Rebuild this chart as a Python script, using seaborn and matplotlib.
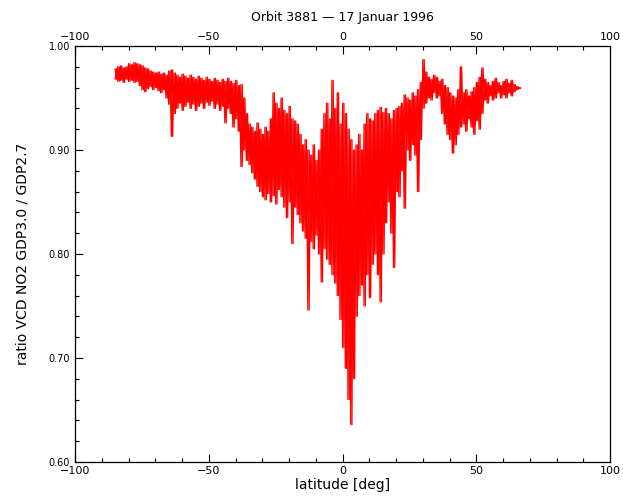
import numpy as np
import pandas as pd
import seaborn as sns
import matplotlib.pyplot as plt
from matplotlib.ticker import MultipleLocator, FormatStrFormatter

# envelope of the ratio, one pair per degree latitude
lat = list(range(-85, 67))
hi = [0.978, 0.980, 0.981, 0.979, 0.980, 0.983, 0.982, 0.984, 0.983, 0.982,
      0.981, 0.979, 0.978, 0.976, 0.975, 0.974, 0.975, 0.973, 0.974, 0.972,
      0.976, 0.977, 0.974, 0.972, 0.970, 0.973, 0.971, 0.969, 0.972, 0.970,
      0.968, 0.971, 0.969, 0.967, 0.970, 0.968, 0.966, 0.969, 0.967, 0.965,
      0.968, 0.966, 0.969, 0.966, 0.964, 0.967, 0.962, 0.963, 0.950, 0.935,
      0.925, 0.922, 0.918, 0.926, 0.920, 0.915, 0.922, 0.918, 0.930, 0.955,
      0.945, 0.940, 0.950, 0.938, 0.935, 0.942, 0.930, 0.928, 0.925, 0.915,
      0.905, 0.910, 0.900, 0.895, 0.905, 0.890, 0.900, 0.920, 0.935, 0.945,
      0.930, 0.967, 0.940, 0.955, 0.925, 0.945, 0.935, 0.920, 0.910, 0.900,
      0.905, 0.915, 0.900, 0.925, 0.935, 0.930, 0.928, 0.935, 0.938, 0.941,
      0.936, 0.940, 0.935, 0.930, 0.938, 0.940, 0.942, 0.945, 0.953, 0.950,
      0.948, 0.955, 0.952, 0.958, 0.965, 0.987, 0.975, 0.970, 0.968, 0.972,
      0.970, 0.966, 0.968, 0.962, 0.960, 0.955, 0.952, 0.950, 0.958, 0.980,
      0.955, 0.958, 0.952, 0.956, 0.960, 0.965, 0.970, 0.979, 0.968, 0.965,
      0.962, 0.966, 0.969, 0.965, 0.962, 0.966, 0.968, 0.964, 0.967, 0.963,
      0.961, 0.960]
lo = [0.968, 0.966, 0.967, 0.965, 0.968, 0.966, 0.967, 0.965, 0.966, 0.962,
      0.958, 0.956, 0.959, 0.961, 0.958, 0.960, 0.957, 0.955, 0.958, 0.950,
      0.944, 0.913, 0.935, 0.940, 0.945, 0.938, 0.942, 0.946, 0.940, 0.944,
      0.938, 0.942, 0.945, 0.940, 0.946, 0.943, 0.947, 0.940, 0.944, 0.938,
      0.942, 0.926, 0.940, 0.935, 0.922, 0.930, 0.918, 0.884, 0.900, 0.890,
      0.886, 0.878, 0.872, 0.865, 0.860, 0.855, 0.852, 0.858, 0.850, 0.856,
      0.848, 0.862, 0.855, 0.845, 0.835, 0.850, 0.810, 0.845, 0.838, 0.830,
      0.822, 0.815, 0.746, 0.812, 0.805, 0.818, 0.800, 0.773, 0.805, 0.795,
      0.790, 0.780, 0.772, 0.760, 0.737, 0.710, 0.690, 0.660, 0.636, 0.680,
      0.740, 0.760, 0.770, 0.750, 0.780, 0.758, 0.790, 0.800, 0.780, 0.754,
      0.800, 0.830, 0.850, 0.820, 0.787, 0.860, 0.855, 0.880, 0.844, 0.900,
      0.890, 0.905, 0.895, 0.860, 0.910, 0.940, 0.945, 0.950, 0.948, 0.955,
      0.950, 0.952, 0.935, 0.925, 0.915, 0.910, 0.897, 0.905, 0.915, 0.922,
      0.925, 0.918, 0.930, 0.922, 0.915, 0.928, 0.920, 0.935, 0.948, 0.945,
      0.952, 0.948, 0.950, 0.955, 0.950, 0.953, 0.950, 0.955, 0.952, 0.956,
      0.958, 0.959]

# two crossing zig-zag tracks between the upper and lower envelope,
# like the overlapping ground pixels of the orbit
rows = []
for la, h, l in zip(lat, hi, lo):
    rows += [(0, la, h), (0, la + 0.5, l)]
    rows += [(1, la, l), (1, la + 0.5, h)]
df = pd.DataFrame(rows, columns=["track", "latitude", "ratio"])

sns.set_style("ticks")
plt.rcParams['font.family'] = ['DejaVu Sans']
plt.rcParams['text.color'] = 'black'
plt.rcParams['axes.labelcolor'] = 'black'

fig = plt.figure(figsize=(6.23, 5), dpi=100)
ax = fig.add_axes([0.1204, 0.076, 0.859, 0.832])

sns.lineplot(data=df, x="latitude", y="ratio", units="track", sort=False,
             estimator=None, color="red", linewidth=0.9, ax=ax)

ax.set_xlim(-100, 100)
ax.set_ylim(0.60, 1.00)
ax.xaxis.set_major_locator(MultipleLocator(50))
ax.xaxis.set_minor_locator(MultipleLocator(10))
ax.yaxis.set_major_locator(MultipleLocator(0.1))
ax.yaxis.set_minor_locator(MultipleLocator(0.02))
ax.yaxis.set_major_formatter(FormatStrFormatter("%.2f"))

ax.tick_params(axis="x", which="both", direction="in", top=True, labeltop=True,
               bottom=True, labelbottom=True, labelsize=8, pad=3)
ax.tick_params(axis="y", which="both", direction="in", left=True, right=False,
               labelsize=7)
ax.tick_params(which="both", color="black", labelcolor="black", width=0.8)
ax.tick_params(which="major", length=6)
ax.tick_params(which="minor", length=3)
for s in ax.spines.values():
    s.set_visible(True)
    s.set_linewidth(0.9)
    s.set_color("black")

ax.set_xlabel("latitude [deg]", fontsize=10, labelpad=1, color="black")
ax.set_ylabel("ratio VCD NO2 GDP3.0 / GDP2.7", fontsize=10, labelpad=14,
              color="black")
ax.set_title("Orbit 3881 \u2014 17 Januar 1996", fontsize=9, pad=18,
             color="black")

fig.savefig("out.png", dpi=100)
